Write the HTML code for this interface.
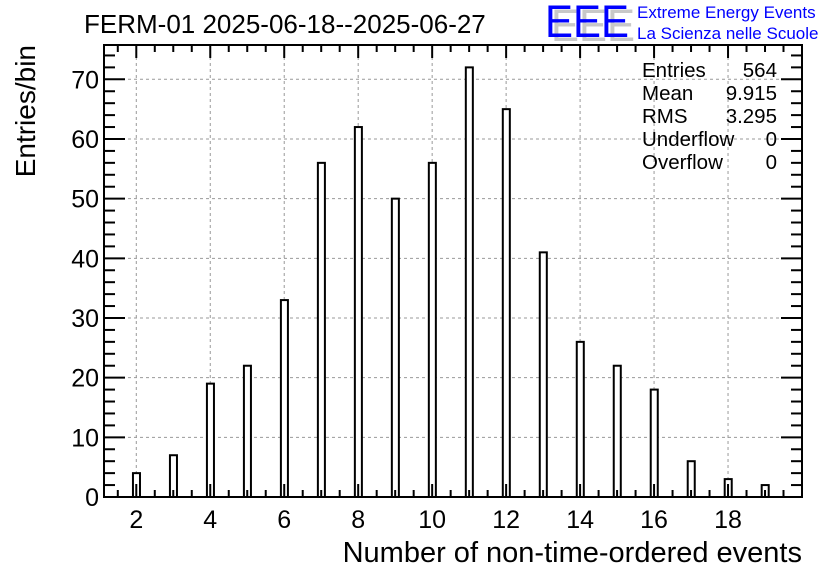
<!DOCTYPE html>
<html><head><meta charset="utf-8"><style>
body{margin:0;background:#fff}
svg{display:block;font-family:"Liberation Sans",sans-serif}
</style></head><body>
<svg id="c" width="836" height="572" viewBox="0 0 836 572">
<g id="grid"></g>
<g id="bars"></g>
<g id="axes"></g>
<rect x="104" y="45" width="698" height="452" fill="none" stroke="#000" stroke-width="2"/>
<text x="84" y="33" font-size="26">FERM-01 2025-06-18--2025-06-27</text>
<text x="802" y="562" font-size="29" text-anchor="end">Number of non-time-ordered events</text>
<text transform="translate(35,45) rotate(-90)" font-size="28" text-anchor="end">Entries/bin</text>
<g>
<text x="551" y="41" font-size="45" fill="#c8c8c8" textLength="84" lengthAdjust="spacingAndGlyphs">EEE</text>
<text x="545" y="37" font-size="45" fill="#0000ff" textLength="84" lengthAdjust="spacingAndGlyphs">EEE</text>
<text x="637" y="18" font-size="17" fill="#0000ff">Extreme Energy Events</text>
<text x="637" y="39" font-size="17" fill="#0000ff">La Scienza nelle Scuole</text>
</g>
<g font-size="20.5">
<text x="642" y="77">Entries</text><text x="777" y="77" text-anchor="end">564</text>
<text x="642" y="100">Mean</text><text x="777" y="100" text-anchor="end">9.915</text>
<text x="642" y="123">RMS</text><text x="777" y="123" text-anchor="end">3.295</text>
<text x="642" y="146">Underflow</text><text x="777" y="146" text-anchor="end">0</text>
<text x="642" y="169">Overflow</text><text x="777" y="169" text-anchor="end">0</text>
</g>
</svg>
<script>
const categories=[2,3,4,5,6,7,8,9,10,11,12,13,14,15,16,17,18,19];
const counts=[4,7,19,22,33,56,62,50,56,72,65,41,26,22,18,6,3,2];
const xTicks=[2,4,6,8,10,12,14,16,18];
const yTicks=[0,10,20,30,40,50,60,70];
const X0=104,X1=802,Y0=497,Y1=45,xmin=1.127,xmax=20,ymin=0,ymax=75.75;
const xs=v=>X0+(v-xmin)/(xmax-xmin)*(X1-X0);
const ys=v=>Y0-(v-ymin)/(ymax-ymin)*(Y0-Y1);
const NS="http://www.w3.org/2000/svg";
function mk(t,a,p){const e=document.createElementNS(NS,t);for(const k in a)e.setAttribute(k,a[k]);p.appendChild(e);return e;}
const grid=document.getElementById('grid'),bars=document.getElementById('bars'),axes=document.getElementById('axes');
xTicks.forEach(v=>{const l=mk('line',{x1:xs(v),x2:xs(v),y1:Y1,y2:Y0,stroke:'#999','stroke-dasharray':'3,3'},grid);

});
yTicks.forEach(v=>{const l=mk('line',{x1:X0,x2:X1,y1:ys(v),y2:ys(v),stroke:'#999','stroke-dasharray':'3,3'},grid);

});
categories.forEach((c,i)=>{const lo=xs(c-0.09),hi=xs(c+0.10);
const r=mk('rect',{x:lo,y:ys(counts[i]),width:hi-lo,height:Y0-ys(counts[i]),fill:'#fff',stroke:'#000','stroke-width':2},bars);

});
for(let v=1.5;v<=20;v+=0.5){const maj=(v%2===0);const L=maj?13:7;
mk('line',{x1:xs(v),x2:xs(v),y1:Y0,y2:Y0-L,stroke:'#000','stroke-width':2},axes);
mk('line',{x1:xs(v),x2:xs(v),y1:Y1,y2:Y1+L,stroke:'#000','stroke-width':2},axes);}
for(let v=0;v<=ymax;v+=2){const maj=(v%10===0);const L=maj?21:11;
mk('line',{x1:X0,x2:X0+L,y1:ys(v),y2:ys(v),stroke:'#000','stroke-width':2},axes);
mk('line',{x1:X1,x2:X1-L,y1:ys(v),y2:ys(v),stroke:'#000','stroke-width':2},axes);}
xTicks.forEach(v=>{const t=mk('text',{x:xs(v),y:Y0+31,'font-size':25,'text-anchor':'middle'},axes);t.textContent=v;

});
yTicks.forEach(v=>{const t=mk('text',{x:X0-5,y:ys(v)+9,'font-size':25,'text-anchor':'end'},axes);t.textContent=v;

});
</script>
</body></html>
